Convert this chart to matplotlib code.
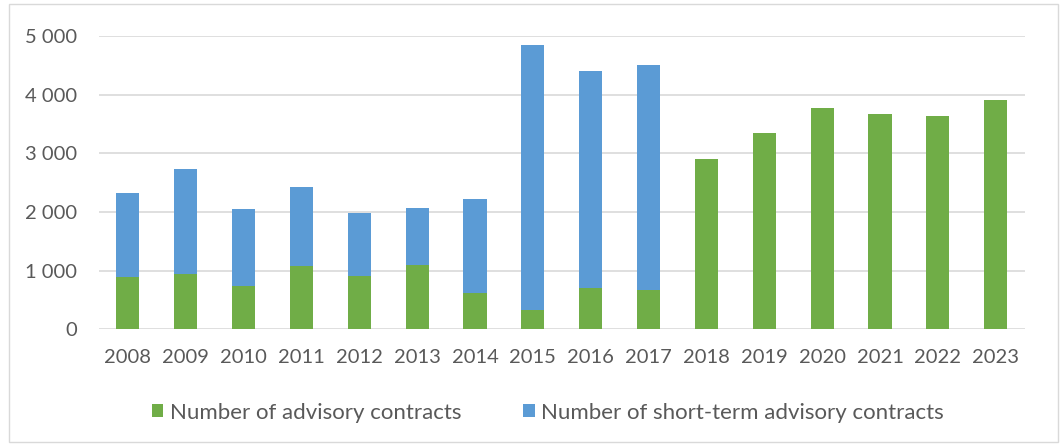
import matplotlib.pyplot as plt
from matplotlib.patches import Rectangle
from matplotlib.ticker import FuncFormatter

years = ["2008", "2009", "2010", "2011", "2012", "2013", "2014", "2015",
         "2016", "2017", "2018", "2019", "2020", "2021", "2022", "2023"]
advisory = [898, 949, 744, 1074, 915, 1091, 625, 330,
            699, 670, 2898, 3347, 3767, 3676, 3631, 3903]
short_term = [1426, 1784, 1307, 1352, 1062, 977, 1597, 4517,
              3704, 3836, 0, 0, 0, 0, 0, 0]

green = "#70AD47"
blue = "#5B9BD5"
text_col = "#595959"

plt.rcParams['font.family'] = ['Lato', 'DejaVu Sans']

fig = plt.figure(figsize=(10.64, 4.46), dpi=100)
ax = fig.add_axes([0.093, 0.262, 0.870, 0.657])

x = range(len(years))
ax.bar(x, advisory, width=0.4, color=green, label="Number of advisory contracts", zorder=3)
ax.bar(x, short_term, width=0.4, bottom=advisory, color=blue,
       label="Number of short-term advisory contracts", zorder=3)

ax.set_xlim(-0.5, len(years) - 0.5)
ax.set_ylim(0, 5000)
ax.set_yticks(range(0, 5001, 1000))
ax.yaxis.set_major_formatter(FuncFormatter(lambda v, p: f"{int(v):,}".replace(",", " ")))
ax.set_xticks(list(x))
ax.set_xticklabels(years)
ax.grid(axis='y', color="#D9D9D9", linewidth=1.2, zorder=0)
ax.set_axisbelow(True)
for s in ax.spines.values():
    s.set_visible(False)
ax.tick_params(length=0, labelsize=14.5, labelcolor=text_col)
ax.tick_params(axis='y', pad=16)
ax.tick_params(axis='x', pad=14)

leg = ax.legend(loc='center', bbox_to_anchor=(0.485, -0.285), ncol=2, frameon=False,
                fontsize=16, handlelength=0.5, handleheight=0.5, handletextpad=0.3,
                columnspacing=2.8)
for t in leg.get_texts():
    t.set_color(text_col)

fig.patches.append(Rectangle((0.008, 0.008), 0.986, 0.984, transform=fig.transFigure,
                             fill=False, edgecolor="#D9D9D9", linewidth=1))

fig.savefig("out.png", dpi=100)
